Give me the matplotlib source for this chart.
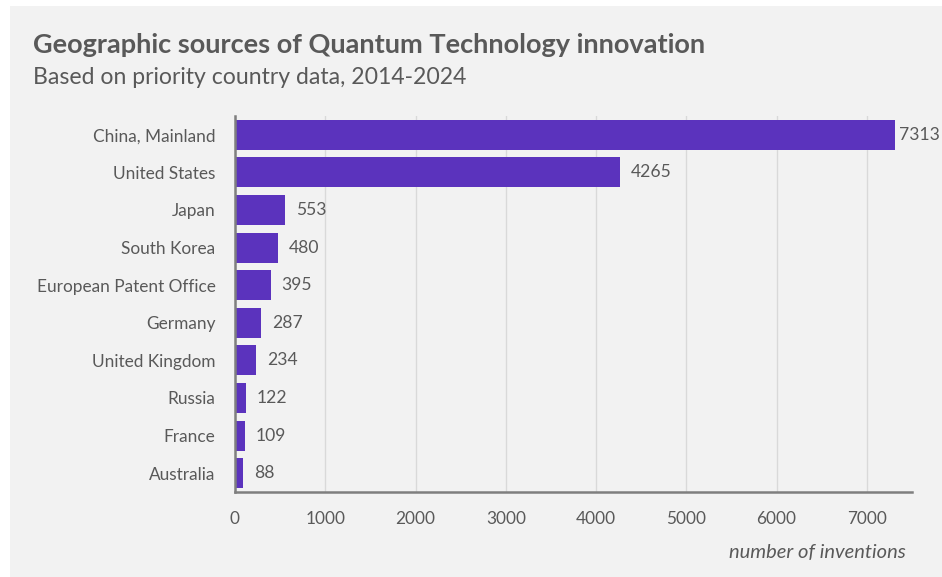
import matplotlib.pyplot as plt
from matplotlib.patches import Rectangle

# data
countries = ['China, Mainland', 'United States', 'Japan', 'South Korea',
             'European Patent Office', 'Germany', 'United Kingdom',
             'Russia', 'France', 'Australia']
inventions = [7313, 4265, 553, 480, 395, 287, 234, 122, 109, 88]
x_ticks = [0, 1000, 2000, 3000, 4000, 5000, 6000, 7000]

plt.rcParams['font.family'] = ['Lato', 'DejaVu Sans']

bar_color = '#5b33bd'
text_color = '#595959'

fig = plt.figure(figsize=(9.42, 5.77), dpi=100)
fig.patch.set_facecolor('white')
# grey card behind the chart
fig.patches.append(Rectangle((10 / 942, 0), 932 / 942, 571 / 577,
                             transform=fig.transFigure, facecolor='#f2f2f2',
                             edgecolor='none', zorder=-10))

ax = fig.add_axes([235 / 942, 1 - 492 / 577, 677 / 942, 376 / 577])
ax.set_facecolor('none')

y = range(len(countries))
ax.barh(y, inventions, height=0.8, color=bar_color, zorder=3)
ax.set_ylim(len(countries) - 0.5, -0.5)
ax.set_xlim(0, 7500)
ax.set_yticks(list(y))
ax.set_yticklabels(countries, fontsize=12.4, color=text_color)
ax.set_xticks(x_ticks)
ax.set_xticklabels([str(t) for t in x_ticks], fontsize=12.4, color=text_color)
ax.tick_params(axis='y', length=0, pad=14)
ax.tick_params(axis='x', length=0, pad=14)

ax.grid(axis='x', color='#d9d9d9', linewidth=1, zorder=0)
for s in ['top', 'right']:
    ax.spines[s].set_visible(False)
for s in ['left', 'bottom']:
    ax.spines[s].set_color('#7f7f7f')
    ax.spines[s].set_linewidth(1.8)
    ax.spines[s].set_zorder(4)

# value labels
for i, v in enumerate(inventions):
    off = 4 if v == max(inventions) else 11
    ax.annotate(str(v), (v, i), xytext=(off, 0), textcoords='offset pixels',
                va='center', ha='left', fontsize=12.6, color=text_color)

fig.text(33 / 942, 1 - 45 / 577, 'Geographic sources of Quantum Technology innovation',
         fontsize=19.5, fontweight='bold', color=text_color, va='center')
fig.text(33 / 942, 1 - 77 / 577, 'Based on priority country data, 2014-2024',
         fontsize=16.6, color=text_color, va='center')
fig.text(906 / 942, 1 - 552 / 577, 'number of inventions', fontsize=14.5,
         style='italic', color=text_color, ha='right', va='center')

fig.savefig('out.png', dpi=100)
